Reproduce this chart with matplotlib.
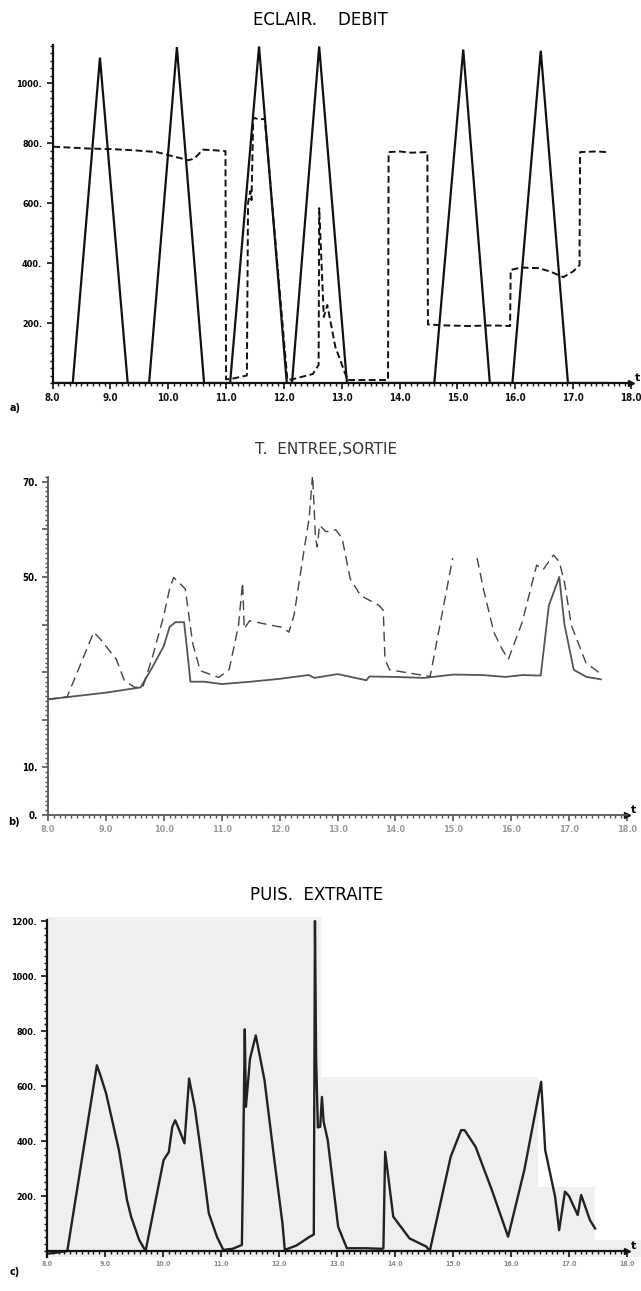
import numpy as np
import matplotlib
matplotlib.use('agg')
import matplotlib.pyplot as plt
from matplotlib.ticker import MultipleLocator, FixedLocator, FixedFormatter

nan = np.nan

# a) ECLAIR. DEBIT
eclair_t = [8.0, 8.35, 8.82, 9.30, 9.67, 10.15, 10.62, 11.07, 11.57, 12.05, 12.14, 12.61, 13.09,
            14.60, 15.10, 15.56, 15.95, 16.44, 16.91, 17.6]
eclair_v = [0, 0, 1085, 0, 0, 1120, 0, 0, 1122, 0, 0, 1122, 0,
            0, 1112, 0, 0, 1108, 0, 0]

debit_t = [8.0, 8.0, 8.3, 8.6, 9.0, 9.4, 9.8, 10.1, 10.35, 10.45, 10.6, 10.8, 10.99, 11.0,
           11.12, 11.36, 11.38, 11.42, 11.44, 11.47, 11.55, 11.67, 12.06, 12.14, 12.3, 12.5,
           12.6, 12.61, 12.69, 12.75, 12.89, 13.1, 13.8, 13.81, 14.0, 14.2, 14.48, 14.49,
           14.8, 15.2, 15.6, 15.91, 15.92, 16.1, 16.4, 16.6, 16.83, 17.0, 17.11, 17.12, 17.4, 17.57]
debit_v = [0, 788, 785, 782, 780, 776, 770, 755, 743, 748, 778, 776, 773, 12,
           15, 25, 600, 640, 610, 885, 880, 880, 10, 12, 20, 30,
           60, 583, 220, 260, 120, 10, 10, 770, 772, 768, 770, 195,
           192, 190, 192, 190, 377, 385, 383, 372, 353, 372, 393, 770, 772, 770]

# b) T. ENTREE,SORTIE
sortie_t = [8.0, 8.5, 9.0, 9.6, 9.8, 10.0, 10.1, 10.2, 10.35, 10.4, 10.46, 10.7, 11.0, 11.5, 12.0,
            12.5, 12.6, 13.0, 13.5, 13.55, 14.0, 14.5, 15.0, 15.5, 15.9, 16.2, 16.45, 16.51,
            16.65, 16.83, 16.92, 17.08, 17.3, 17.55]
sortie_v = [24.3, 25.0, 25.7, 26.8, 31.0, 35.5, 39.5, 40.5, 40.5, 35.0, 28.0, 28.0, 27.5, 28.0, 28.6,
            29.4, 28.8, 29.6, 28.3, 29.1, 29.0, 28.8, 29.5, 29.4, 29.0, 29.4, 29.3, 29.3,
            44.0, 50.0, 40.0, 30.5, 29.0, 28.5]

entree_t = [8.0, 8.33, 8.79, 8.9, 9.18, 9.32, 9.5, 9.64, 9.8, 10.0, 10.1, 10.17, 10.37, 10.5, 10.63,
            10.95, 11.13, 11.29, 11.36, 11.39, 11.48, 11.8, 12.05, 12.16, 12.25, 12.4, 12.51, 12.57,
            12.62, 12.65, 12.69, 12.8, 12.97, 13.08, 13.22, 13.4, 13.72, 13.79, 13.82, 13.9, 14.25,
            14.6, 14.99, 15.0, 15.41, 15.52, 15.7, 15.84, 15.95, 16.19, 16.44, 16.55, 16.73, 16.83,
            16.92, 17.04, 17.29, 17.55]
entree_v = [24.3, 24.8, 38.4, 37.0, 32.7, 28.2, 26.8, 27.0, 33.0, 41.9, 47.5, 49.9, 47.5, 36.0, 30.3,
            28.9, 30.6, 39.8, 48.8, 39.1, 40.8, 40.0, 39.4, 38.4, 42.0, 53.9, 62.3, 71.5,
            58.1, 56.3, 60.9, 59.5, 59.9, 58.1, 49.6, 46.1, 44.0, 43.0, 32.7, 30.5, 29.8,
            29.1, 54.0, nan, 54.0, 47.5, 38.4, 34.9, 32.7, 40.5, 52.5, 51.5, 54.6, 53.2,
            48.9, 39.8, 32.0, 29.6]
entree_sortie_ticks = [0, 10, 20, 30, 40, 50, 60, 70]
entree_sortie_labels = ['0.', '10.', '', '', '', '50.', '', '70.']

# c) PUIS. EXTRAITE
puis_t = [8.0, 8.2, 8.35, 8.86, 8.92, 9.02, 9.24, 9.38, 9.45, 9.59, 9.7, 10.01, 10.1, 10.16, 10.21,
          10.3, 10.37, 10.45, 10.55, 10.65, 10.79, 10.93, 11.04, 11.2, 11.36, 11.38, 11.41, 11.43,
          11.5, 11.6, 11.75, 11.92, 12.06, 12.1, 12.3, 12.53, 12.6, 12.62, 12.64, 12.67, 12.71, 12.74,
          12.77, 12.84, 13.02, 13.17, 13.5, 13.77, 13.8, 13.83, 13.97, 14.25, 14.54, 14.6, 14.96,
          15.14, 15.2, 15.39, 15.67, 15.95, 16.23, 16.52, 16.59, 16.76, 16.83, 16.93, 17.0, 17.15,
          17.21, 17.36, 17.45]
puis_v = [-10, -5, 0, 676, 640, 573, 367, 185, 125, 40, 0, 331, 360, 452, 476,
          430, 392, 628, 520, 367, 137, 52, 4, 8, 22, 300, 807, 525,
          700, 785, 622, 331, 100, 4, 20, 52, 60, 1201, 700, 450, 452, 561,
          470, 404, 88, 10, 10, 8, 10, 361, 125, 46, 16, 0, 343,
          440, 440, 379, 222, 52, 295, 616, 367, 198, 76, 216, 200, 131,
          204, 113, 82]

# grey paper patches visible behind panel c
patch_x = [(8.0, 12.72), (12.72, 16.47), (16.47, 17.45), (17.45, 18.3)]
patch_top = [1215, 634, 234, 40]

ink = '#111111'
fig = plt.figure(figsize=(6.41, 12.91), dpi=100)


def frame(ax, ymax, ymin=0.0):
    ax.set_xlim(8, 18)
    ax.set_ylim(ymin, ymax)
    for s in ['top', 'right']:
        ax.spines[s].set_visible(False)
    for s in ['left', 'bottom']:
        ax.spines[s].set_linewidth(1.6)
        ax.spines[s].set_color(ink)
    ax.spines['bottom'].set_position(('data', 0))
    ax.xaxis.set_minor_locator(MultipleLocator(0.1))
    ax.tick_params(which='major', length=4, width=1.2, color=ink)
    ax.tick_params(which='minor', length=2.5, width=1.0, color=ink)
    ax.set_facecolor('none')
    ax.plot(1, 0, marker='>', ms=5, color=ink, transform=ax.get_yaxis_transform(), clip_on=False)
    ax.plot(0, 1, marker='^', ms=4, color=ink, transform=ax.get_xaxis_transform(), clip_on=False)
    ax.text(18.06, 0, 't', transform=ax.transData, fontsize=8, fontweight='bold',
            va='bottom', ha='left')


def xlabels(ax, color, size):
    ax.xaxis.set_major_locator(FixedLocator(np.arange(8, 19)))
    ax.xaxis.set_major_formatter(FixedFormatter(['%.1f' % v for v in np.arange(8, 19)]))
    for lab in ax.get_xticklabels():
        lab.set_color(color)
        lab.set_fontsize(size)
        lab.set_fontweight('bold')
        lab.set_fontstretch('condensed')


def ylabels(ax, vals, texts, size):
    ax.yaxis.set_major_locator(FixedLocator(vals))
    ax.yaxis.set_major_formatter(FixedFormatter(texts))
    for lab in ax.get_yticklabels():
        lab.set_fontsize(size)
        lab.set_fontweight('bold')
        lab.set_fontstretch('condensed')


# ---- panel a
ax1 = fig.add_axes([52.5 / 641, 1 - 383 / 1291, 578.5 / 641, 338 / 1291])
frame(ax1, 1127)
ax1.yaxis.set_minor_locator(MultipleLocator(25))
ya = [200, 400, 600, 800, 1000]
ylabels(ax1, ya, ['%d.' % v for v in ya], 6.5)
xlabels(ax1, ink, 7)
ax1.plot(eclair_t, eclair_v, color=ink, lw=1.6, solid_joinstyle='miter')
ax1.plot(debit_t, debit_v, color=ink, lw=1.4, ls=(0, (3.5, 1.8)))
fig.text(0.5, 1 - 20 / 1291, 'ECLAIR.    DEBIT', ha='center', va='center', fontsize=12)
fig.text(10 / 641, 1 - 408 / 1291, 'a)', fontsize=7, fontweight='bold', va='center')

# ---- panel b
grey_ink = '#555555'
ax2 = fig.add_axes([48 / 641, 1 - 815 / 1291, 579 / 641, 338 / 1291])
frame(ax2, 71)
ax2.yaxis.set_minor_locator(MultipleLocator(1))
ylabels(ax2, entree_sortie_ticks, entree_sortie_labels, 7)
xlabels(ax2, '#9a9a9a', 6.5)
for s in ['left', 'bottom']:
    ax2.spines[s].set_color(grey_ink)
    ax2.spines[s].set_linewidth(1.3)
ax2.tick_params(which='both', color=grey_ink)
ax2.plot(sortie_t, sortie_v, color=grey_ink, lw=1.3)
ax2.plot(entree_t, entree_v, color='#444444', lw=1.0, ls=(0, (7, 4)))
fig.text(0.508, 1 - 450 / 1291, 'T.  ENTREE,SORTIE', ha='center', va='center', fontsize=11,
         color='#333333')
fig.text(8 / 641, 1 - 822 / 1291, 'b)', fontsize=7, fontweight='bold', va='center')

# ---- panel c
ax3 = fig.add_axes([47 / 641, 1 - 1256.5 / 1291, 580 / 641, 336.5 / 1291])
for (x0, x1), top in zip(patch_x, patch_top):
    ax3.fill_between([x0, x1], -20, top, color='#efefef', lw=0, zorder=0, clip_on=False)
frame(ax3, 1205, ymin=-20)
ax3.yaxis.set_minor_locator(MultipleLocator(25))
yc = [200, 400, 600, 800, 1000, 1200]
ylabels(ax3, yc, ['%d.' % v for v in yc], 6.5)
xlabels(ax3, '#8a8a8a', 5)
ax3.plot(puis_t, puis_v, color='#222222', lw=1.7)
fig.text(0.494, 1 - 895 / 1291, 'PUIS.  EXTRAITE', ha='center', va='center', fontsize=12)
fig.text(10 / 641, 1 - 1272 / 1291, 'c)', fontsize=7, fontweight='bold', va='center')

fig.savefig('out.png', dpi=100, facecolor='white')
